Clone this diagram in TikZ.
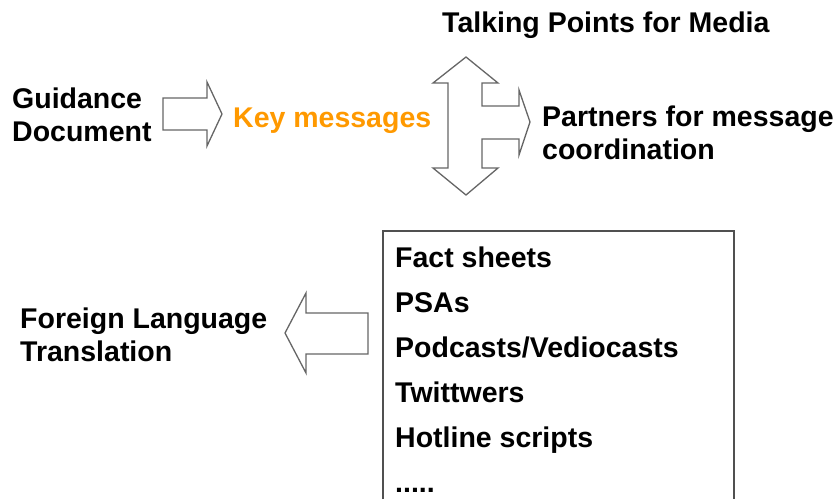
\documentclass[tikz,border=0pt]{standalone}
\usepackage{fontspec}
\setmainfont{Liberation Sans}
\definecolor{keyorange}{HTML}{FF9900}
\definecolor{arrowgray}{HTML}{666666}
\definecolor{boxgray}{HTML}{505050}
\tikzset{
  lbl/.style={anchor=base west, inner sep=0pt, font=\fontsize{28.5}{33}\selectfont\bfseries, text=black},
  blockarrow/.style={draw=arrowgray, fill=white, line width=1.3pt, line join=miter},
  listbox/.style={draw=boxgray, line width=1.1pt}
}
\begin{document}
\begin{tikzpicture}[x=1pt,y=-1pt]
\useasboundingbox (0,0) rectangle (835,499);
% texts
\node[lbl] (talk) at (442,32) {Talking Points for Media};
\node[lbl] (guid1) at (12,108) {Guidance};
\node[lbl] (guid2) at (12,141) {Document};
\node[lbl, text=keyorange] (key) at (233,127) {Key messages};
\node[lbl] (part1) at (542,126) {Partners for message};
\node[lbl] (part2) at (542,159) {coordination};
\node[lbl] (for1) at (20,328) {Foreign Language};
\node[lbl] (for2) at (20,361) {Translation};
\node[lbl] (i1) at (395,267) {Fact sheets};
\node[lbl] (i2) at (395,312) {PSAs};
\node[lbl] (i3) at (395,357) {Podcasts/Vediocasts};
\node[lbl] (i4) at (395,402) {Twittwers};
\node[lbl] (i5) at (395,447) {Hotline scripts};
\node[lbl] (i6) at (395,492) {.....};
% list box, open at the bottom edge
\draw[listbox] (383,499) -- (383,231) -- (734,231) -- (734,499);
% right block arrow: Guidance -> Key messages
\draw[blockarrow] (163,98) -- (207,98) -- (207,82) -- (222,114) -- (207,146) -- (207,130) -- (163,130) -- cycle;
% left block arrow: list -> Foreign Language Translation
\draw[blockarrow] (285,333) -- (306,293) -- (306,313) -- (368,313) -- (368,354) -- (306,354) -- (306,373) -- cycle;
% vertical double arrow with branch to the right
\draw[blockarrow] (466,57) -- (498,83) -- (482,83) -- (482,106) -- (519,106) -- (519,90) -- (530,122)
  -- (519,155) -- (519,139) -- (482,139) -- (482,168) -- (498,168) -- (466,195) -- (433,168)
  -- (448,168) -- (448,83) -- (433,83) -- cycle;
\end{tikzpicture}
\end{document}
